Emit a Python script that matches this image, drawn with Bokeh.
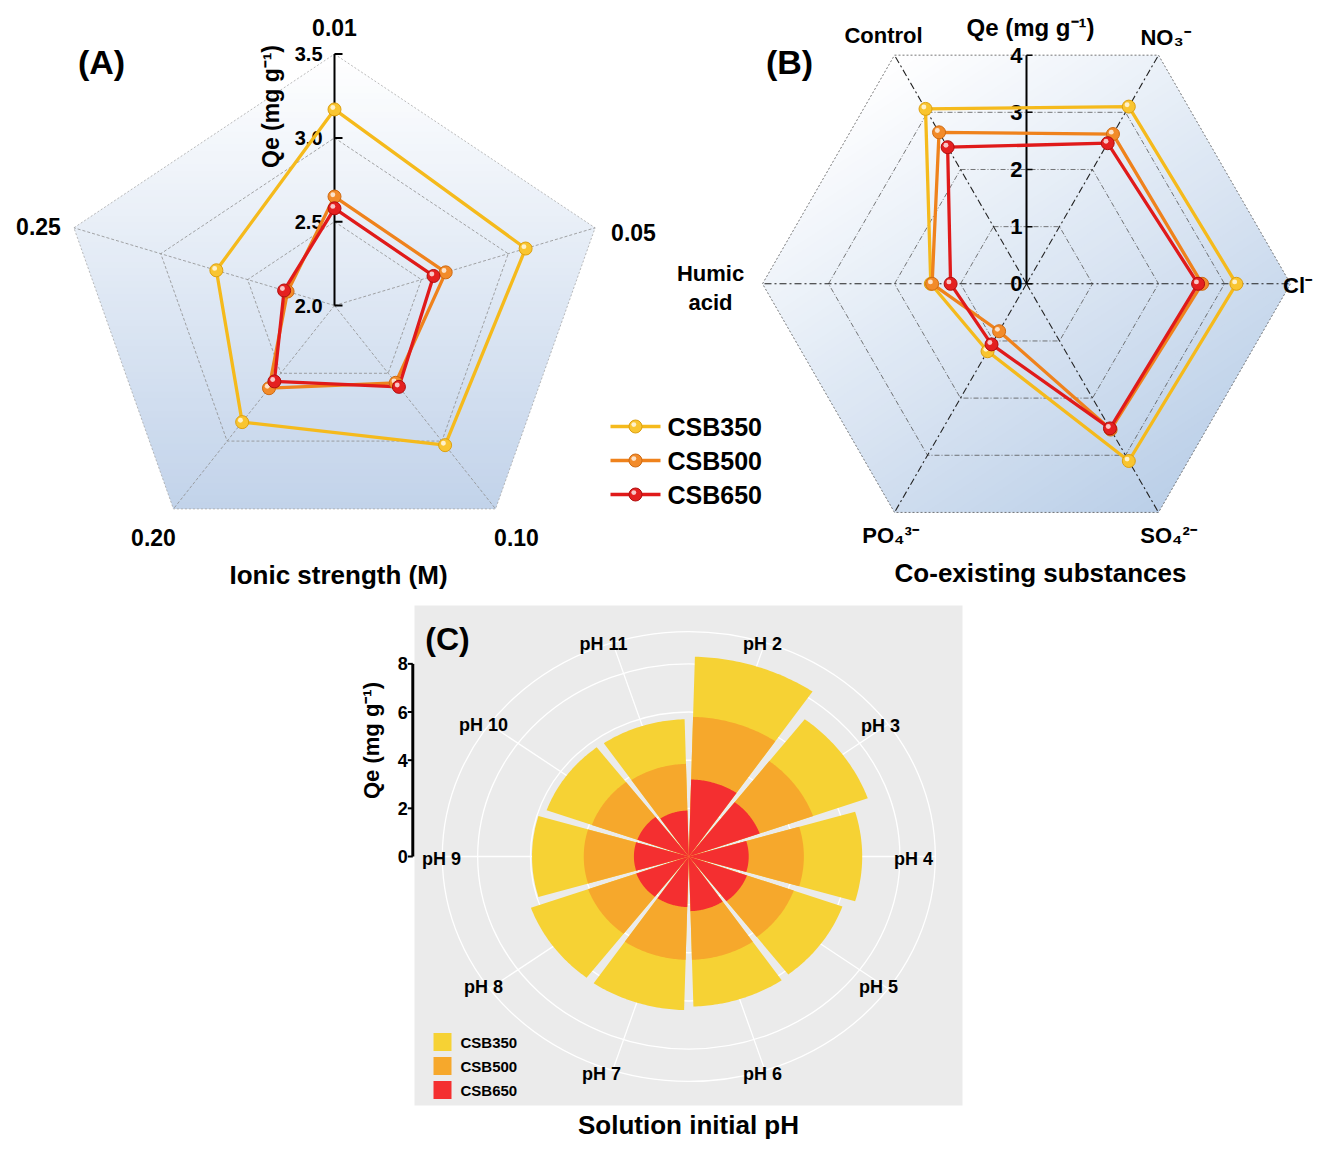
import numpy as np
from bokeh.plotting import figure
from bokeh.models import Range1d
from bokeh.embed import file_html
from bokeh.resources import INLINE
from bokeh.core.properties import value

# ------------------------------------------------------------------ data
series_names = ["CSB350", "CSB500", "CSB650"]

# (A) ionic strength radar
ionic_labels = ["0.01", "0.05", "0.10", "0.20", "0.25"]
ionic_csb350 = [3.17, 3.10, 3.03, 2.86, 2.68]
ionic_csb500 = [2.65, 2.64, 2.57, 2.61, 2.27]
ionic_csb650 = [2.58, 2.57, 2.60, 2.56, 2.29]
ionic_ticks = [2.0, 2.5, 3.0, 3.5]

# (B) co-existing substances radar
coex_labels = ["Control", "NO₃⁻", "Cl⁻", "SO₄²⁻", "PO₄³⁻", "Humic\nacid"]
coex_csb350 = [3.06, 3.10, 3.18, 3.10, 1.18, 1.45]
coex_csb500 = [2.65, 2.62, 2.66, 2.55, 0.83, 1.43]
coex_csb650 = [2.39, 2.46, 2.60, 2.53, 1.06, 1.15]
coex_ticks = [0, 1, 2, 3, 4]

# (C) initial pH rose
ph_labels = ["pH 2", "pH 3", "pH 4", "pH 5", "pH 6", "pH 7", "pH 8", "pH 9", "pH 10", "pH 11"]
ph_csb350 = [8.30, 7.20, 6.57, 6.18, 6.23, 6.38, 6.35, 5.94, 5.72, 5.70]
ph_csb500 = [5.80, 5.00, 4.36, 4.22, 4.29, 4.29, 4.05, 3.98, 3.90, 3.85]
ph_csb650 = [3.20, 2.85, 2.27, 2.34, 2.27, 2.10, 2.11, 2.08, 2.07, 1.91]
ph_ticks = [0, 2, 4, 6, 8]

# ------------------------------------------------------------------ styles / layout
FONT = "Liberation Sans"
LINE_COLS = ["#F5BA1C", "#EF821C", "#E01A1A"]
MARK_COLS = ["#F9C530", "#F28B2A", "#E42020"]
MARK_EDGE = ["#DDA010", "#CF6A12", "#B00E0E"]
ROSE_COLS = ["#F6D234", "#F6A82C", "#F42F30"]

A_label_pos = [(334, 27), (633, 232), (516, 537), (153, 537), (38, 226)]
B_label_pos = [(883, 35), (1165, 37), (1297, 285), (1168, 535), (890, 535), (710, 287)]
C_label_pos = [(762, 643), (880, 725), (913, 858), (878, 986), (762, 1073),
               (601, 1073), (483, 986), (441, 858), (483, 724), (603, 643)]

W, H = 1315, 1139
PAGE_H = 1155

p = figure(width=W, height=H, x_range=Range1d(0, W),
           y_range=Range1d(PAGE_H - H, PAGE_H),
           output_backend="svg", toolbar_location=None,
           x_axis_type=None, y_axis_type=None, min_border=0)
p.grid.visible = False
p.outline_line_color = None
p.background_fill_color = "white"
p.border_fill_color = "white"


def sy(y):
    return PAGE_H - np.asarray(y, dtype=float)


def txt(x, y, s, size, align="center", baseline="middle", angle=0.0, bold=True, color="black"):
    p.text(x=[x], y=[float(sy(y))], text=[s], text_font=value(FONT),
           text_font_size=f"{size}px", text_font_style="bold" if bold else "normal",
           text_align=align, text_baseline=baseline, angle=angle, text_color=color)


def mix(c0, c1, t):
    a = [int(c0[i:i + 2], 16) for i in (1, 3, 5)]
    b = [int(c1[i:i + 2], 16) for i in (1, 3, 5)]
    return "#%02x%02x%02x" % tuple(int(round(a[i] + (b[i] - a[i]) * t)) for i in range(3))


def clip_half(poly, a, b, c):
    out = []
    n = len(poly)
    for i in range(n):
        px, py = poly[i]
        qx, qy = poly[(i + 1) % n]
        fp = a * px + b * py - c
        fq = a * qx + b * qy - c
        if fp <= 0:
            out.append((px, py))
        if (fp <= 0) != (fq <= 0):
            t = fp / (fp - fq)
            out.append((px + t * (qx - px), py + t * (qy - py)))
    return out


def gradient_fill(xs_poly, ys_poly, d, c0, c1, n=70):
    poly = list(zip(xs_poly, ys_poly))
    dx, dy = d
    proj = [dx * x + dy * y for x, y in poly]
    s0, s1 = min(proj), max(proj)
    step = (s1 - s0) / n
    XS, YS, cols = [], [], []
    for i in range(n):
        lo = s0 + i * step - 0.5
        hi = s0 + (i + 1) * step + 0.5
        q = clip_half(poly, dx, dy, hi)
        q = clip_half(q, -dx, -dy, -lo)
        if len(q) < 3:
            continue
        XS.append([pt[0] for pt in q])
        YS.append([pt[1] for pt in q])
        cols.append(mix(c0, c1, (i + 0.5) / n))
    p.patches(XS, YS, fill_color=cols, line_color=None)


def closed(x, y):
    return list(x) + [x[0]], list(y) + [y[0]]


def sphere(x, y, k, size=13):
    p.scatter(x, y, size=size, marker="circle", fill_color=MARK_COLS[k],
              line_color=MARK_EDGE[k], line_width=1)
    p.scatter(np.asarray(x) - 1.7, np.asarray(y) + 1.9, size=size * 0.38, marker="circle",
              fill_color="white", fill_alpha=0.75, line_color=None)


# ================================================================== (A)
A_cx, A_cy = 334.0, 305.0
A_r_per = 167.6          # px per mg/g
A_sx = 1.09              # horizontal stretch of the panel
A_base = ionic_ticks[0]
nA = len(ionic_labels)
A_ang = np.deg2rad(90 - 72 * np.arange(nA))


def A_xy(vals):
    r = (np.asarray(vals, dtype=float) - A_base) * A_r_per
    return A_cx + r * np.cos(A_ang) * A_sx, sy(A_cy) + r * np.sin(A_ang)


ox, oy = A_xy([ionic_ticks[-1]] * nA)
gradient_fill(ox, oy, (0.0, -1.0), "#FFFFFF", "#C2D3EA")
for lev in ionic_ticks[1:-1]:
    gx, gy = A_xy([lev] * nA)
    gx, gy = closed(gx, gy)
    p.line(gx, gy, line_color="#8E8E8E", line_width=0.8, line_dash="3 2")
gx, gy = closed(ox, oy)
p.line(gx, gy, line_color="#A8A8A8", line_width=0.8, line_dash="2 2")
p.segment(x0=[A_cx] * nA, y0=[float(sy(A_cy))] * nA, x1=ox, y1=oy,
          line_color="#8E8E8E", line_width=0.8, line_dash="3 2")

# radial axis
A_top = float(sy(A_cy)) + (ionic_ticks[-1] - A_base) * A_r_per
p.segment(x0=[A_cx], y0=[float(sy(A_cy))], x1=[A_cx], y1=[A_top], line_color="black", line_width=2)
tick_y = float(sy(A_cy)) + (np.array(ionic_ticks) - A_base) * A_r_per
p.segment(x0=[A_cx] * len(tick_y), y0=tick_y, x1=[A_cx + 8] * len(tick_y), y1=tick_y,
          line_color="black", line_width=2)
for t, yy in zip(ionic_ticks, tick_y):
    p.text(x=[A_cx - 12], y=[yy], text=[f"{t:.1f}"], text_font=value(FONT), text_font_size="20px",
           text_font_style="bold", text_align="right", text_baseline="middle")
txt(270, 106, "Qe (mg g⁻¹)", 23, angle=np.pi / 2)

for k, vals in enumerate([ionic_csb350, ionic_csb500, ionic_csb650]):
    x, y = A_xy(vals)
    lx, ly = closed(x, y)
    p.line(lx, ly, line_color=LINE_COLS[k], line_width=3.3)
for k, vals in enumerate([ionic_csb350, ionic_csb500, ionic_csb650]):
    x, y = A_xy(vals)
    sphere(x, y, k)

for lab, (lx, ly) in zip(ionic_labels, A_label_pos):
    txt(lx, ly, lab, 23)
txt(101, 61, "(A)", 34)
txt(338, 574, "Ionic strength (M)", 26)

# legend
for k, name in enumerate(series_names):
    ly = float(sy(426 + 34 * k))
    p.segment(x0=[610], y0=[ly], x1=[660], y1=[ly], line_color=LINE_COLS[k], line_width=3.3)
    sphere([635], [ly], k)
    p.text(x=[667], y=[ly], text=[name], text_font=value(FONT), text_font_size="25px",
           text_font_style="bold", text_align="left", text_baseline="middle")

# ================================================================== (B)
B_cx, B_cy = 1026.0, 283.3
B_r_per = 66.0
nB = len(coex_labels)
B_ang = np.deg2rad(120 - 60 * np.arange(nB))


def B_xy(vals):
    r = np.asarray(vals, dtype=float) * B_r_per
    return B_cx + r * np.cos(B_ang), sy(B_cy) + r * np.sin(B_ang)


bx, by = B_xy([coex_ticks[-1]] * nB)
dv = np.array([0.55, -0.835])
dv = dv / np.linalg.norm(dv)
gradient_fill(bx, by, (dv[0], dv[1]), "#FFFFFF", "#BBCFE8")
for lev in coex_ticks[1:-1]:
    gx, gy = B_xy([lev] * nB)
    gx, gy = closed(gx, gy)
    p.line(gx, gy, line_color="#555555", line_width=0.8, line_dash="5 2 1 2")
gx, gy = closed(bx, by)
p.line(gx, gy, line_color="#555555", line_width=0.8, line_dash="2 2")
p.segment(x0=[B_cx] * nB, y0=[float(sy(B_cy))] * nB, x1=bx, y1=by,
          line_color="#222222", line_width=1.1, line_dash="7 3 2 3")

# axis (ticks sit on the hexagon edges)
B_apo = B_r_per * np.sin(np.deg2rad(60))
tick_yB = float(sy(B_cy)) + np.array(coex_ticks) * B_apo
p.segment(x0=[B_cx], y0=[tick_yB[0]], x1=[B_cx], y1=[tick_yB[-1]], line_color="black", line_width=2)
p.segment(x0=[B_cx] * len(tick_yB), y0=tick_yB, x1=[B_cx + 6] * len(tick_yB), y1=tick_yB,
          line_color="black", line_width=1.5)
for t, yy in zip(coex_ticks, tick_yB):
    p.text(x=[B_cx - 4], y=[yy], text=[str(t)], text_font=value(FONT), text_font_size="22px",
           text_font_style="bold", text_align="right", text_baseline="middle")
txt(1030, 27, "Qe (mg g⁻¹)", 24)

for k, vals in enumerate([coex_csb350, coex_csb500, coex_csb650]):
    x, y = B_xy(vals)
    lx, ly = closed(x, y)
    p.line(lx, ly, line_color=LINE_COLS[k], line_width=3.3)
for k, vals in enumerate([coex_csb350, coex_csb500, coex_csb650]):
    x, y = B_xy(vals)
    sphere(x, y, k)

for lab, (lx, ly) in zip(coex_labels, B_label_pos):
    lines = lab.split("\n")
    for j, ln in enumerate(lines):
        txt(lx, ly + (j - (len(lines) - 1) / 2) * 29, ln, 22)
txt(789, 61, "(B)", 34)
txt(1040, 572, "Co-existing substances", 26)

# ================================================================== (C)
C_x0, C_x1, C_y0, C_y1 = 414, 962, 605, 1105
p.quad(left=[C_x0], right=[C_x1], bottom=[float(sy(C_y1))], top=[float(sy(C_y0))],
       fill_color="#EBEBEB", line_color=None)

C_cx, C_cy = 688.3, 856.0
C_ky = 24.08
C_sx = 1.096
C_kx = C_ky * C_sx
C_outer = 9.34          # 0.45 of panel, in data units
nC = len(ph_labels)
sector = 360.0 / nC
gap = 3.2
C_mid = np.deg2rad(sector / 2 + sector * np.arange(nC))


def C_xy(r, th):
    return C_cx + r * np.sin(th) * C_kx, float(sy(C_cy)) + r * np.cos(th) * C_ky


# grid
for r in ph_ticks[1:] + [C_outer]:
    p.ellipse(x=[C_cx], y=[float(sy(C_cy))], width=[2 * r * C_kx], height=[2 * r * C_ky],
              fill_color=None, line_color="white", line_width=1.3)
ex, ey = C_xy(C_outer, C_mid)
p.segment(x0=[C_cx] * nC, y0=[float(sy(C_cy))] * nC, x1=ex, y1=ey, line_color="white", line_width=1.3)

# bars (overlapping, largest first)
for k, vals in enumerate([ph_csb350, ph_csb500, ph_csb650]):
    XS, YS = [], []
    for i, v in enumerate(vals):
        th = np.deg2rad(np.linspace(sector * i + gap / 2, sector * (i + 1) - gap / 2, 40))
        wx, wy = C_xy(v, th)
        XS.append([C_cx] + list(wx))
        YS.append([float(sy(C_cy))] + list(wy))
    p.patches(XS, YS, fill_color=ROSE_COLS[k], line_color=None)

# category labels
for lab, (lx, ly) in zip(ph_labels, C_label_pos):
    txt(lx, ly, lab, 18)

# radial axis
C_ax = 412.3
tick_yC = float(sy(C_cy)) + np.array(ph_ticks) * C_ky
p.segment(x0=[C_ax], y0=[tick_yC[0]], x1=[C_ax], y1=[tick_yC[-1]], line_color="black", line_width=3)
p.segment(x0=[C_ax] * len(tick_yC), y0=tick_yC, x1=[C_ax - 5] * len(tick_yC), y1=tick_yC,
          line_color="black", line_width=2)
for t, yy in zip(ph_ticks, tick_yC):
    p.text(x=[C_ax - 5], y=[yy], text=[str(t)], text_font=value(FONT), text_font_size="18px",
           text_font_style="bold", text_align="right", text_baseline="middle")
txt(371, 740, "Qe (mg g⁻¹)", 22, angle=np.pi / 2)

# legend
for k, name in enumerate(series_names):
    cy = 1041.5 + 24 * k
    p.quad(left=[433], right=[451], bottom=[float(sy(cy + 9))], top=[float(sy(cy - 9))],
           fill_color=ROSE_COLS[k], line_color=None)
    p.text(x=[460], y=[float(sy(cy))], text=[name], text_font=value(FONT), text_font_size="15px",
           text_font_style="bold", text_align="left", text_baseline="middle")

txt(447, 638, "(C)", 32)
txt(688, 1124, "Solution initial pH", 26)

open("out.html", "w").write(file_html(p, INLINE))
